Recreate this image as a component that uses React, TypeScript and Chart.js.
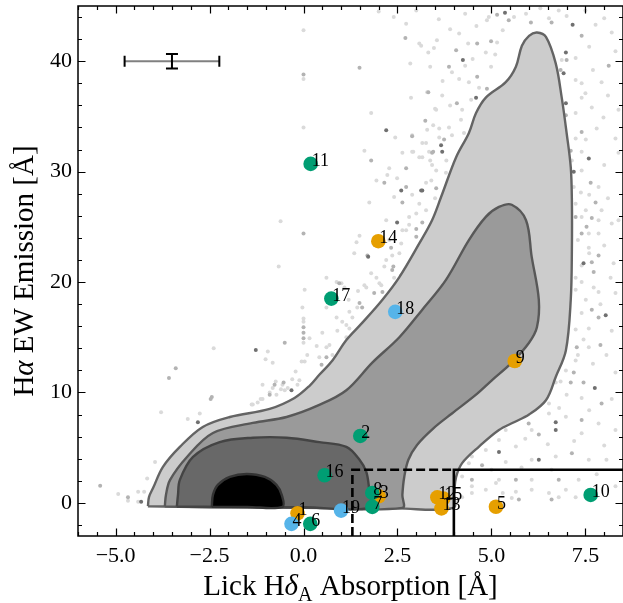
import React, { useEffect, useRef } from "react";
import { Chart, registerables } from "chart.js";

Chart.register(...registerables);

// ---------------- data ----------------
const xRange = [-6, 8.5];
const yRange = [-3, 45];
const xTicks = [-5, -2.5, 0, 2.5, 5, 7.5];
const yTicks = [0, 10, 20, 30, 40];

// labelled galaxies
const galaxyIds = [1, 2, 3, 4, 5, 6, 7, 8, 9, 10, 11, 12, 13, 14, 15, 16, 17, 18, 19];
const galaxyX = [-0.16, 1.51, 2.0, -0.32, 5.12, 0.18, 1.83, 1.83, 5.62, 7.64, 0.19, 3.56, 3.67, 1.99, 3.72, 0.56, 0.74, 2.44, 1.0];
const galaxyY = [-0.95, 6.06, 0.6, -1.9, -0.35, -1.9, -0.36, 0.9, 12.85, 0.72, 30.7, 0.5, -0.5, 23.7, 0.4, 2.5, 18.5, 17.3, -0.7];
const galaxyGroup = ["o", "g", "o", "b", "o", "g", "g", "g", "o", "g", "g", "o", "o", "o", "o", "g", "g", "b", "b"];

// density contours (outer to inner)
const contourOuter = [
  [-4.14, -0.3], [-4.11, 0.54], [-4.0, 1.36], [-3.74, 3.26], [-3.29, 5.07], [-2.68, 6.88], [-1.96, 7.78],
  [-0.9, 8.51], [-0.24, 9.5], [0.16, 10.6], [0.42, 11.6], [0.77, 12.9], [1.14, 14.75], [1.56, 16.3],
  [2.1, 18.4], [2.55, 20.45], [3.08, 23.5], [3.42, 25.6], [3.66, 27.7], [4.06, 31.3], [4.4, 33.5],
  [4.59, 35.3], [4.85, 36.7], [5.38, 38.1], [5.65, 39.5], [5.81, 41.4], [6.0, 42.3], [6.21, 42.6],
  [6.45, 42.2], [6.71, 39.8], [6.87, 36.7], [7.0, 33.5], [7.11, 30.4], [7.14, 27.4], [7.14, 22.9],
  [7.11, 18.4], [6.98, 13.8], [6.71, 11.4], [6.45, 9.3], [6.0, 8.0], [5.6, 7.3], [5.2, 6.6], [4.67, 5.1],
  [4.22, 3.6], [4.06, 2.35], [4.01, 1.0], [3.98, -0.45], [2.5, -0.5], [0.0, -0.45], [-2.5, -0.4],
  [-4.14, -0.3],
];
const contourMid = [
  [-3.69, -0.32], [-3.66, 0.72], [-3.55, 2.08], [-3.1, 4.16], [-2.41, 6.33], [-1.35, 7.24], [-0.45, 7.78],
  [0.42, 8.87], [1.14, 10.2], [1.83, 12.7], [2.55, 15.0], [3.16, 17.5], [3.79, 20.2], [4.4, 23.8],
  [4.85, 25.9], [5.2, 26.8], [5.54, 27.0], [5.92, 25.6], [6.07, 22.3], [6.26, 18.4], [6.21, 15.9],
  [6.0, 14.5], [5.54, 12.7], [5.01, 11.1], [4.59, 9.8], [3.95, 8.1], [3.47, 6.8], [3.02, 5.25],
  [2.79, 3.9], [2.68, 2.35], [2.63, 0.72], [2.63, -0.45], [0.0, -0.42], [-2.5, -0.38], [-3.69, -0.32],
];
const contourInner = [
  [-3.37, -0.33], [-3.34, 0.72], [-3.29, 2.08], [-2.94, 4.16], [-2.23, 5.5], [-1.35, 5.9], [-0.45, 5.9],
  [0.42, 5.5], [1.14, 5.07], [1.49, 3.9], [1.67, 2.8], [1.75, 1.18], [1.8, -0.4], [0.0, -0.4],
  [-2.0, -0.36], [-3.37, -0.33],
];
const contourCore = [
  [-2.44, -0.36], [-2.41, 0.72], [-2.28, 1.63], [-1.96, 2.35], [-1.51, 2.62], [-1.03, 2.35],
  [-0.72, 1.63], [-0.58, 0.72], [-0.56, -0.36], [-1.5, -0.36], [-2.44, -0.36],
];

// background galaxy sample (three shades)
const grayDark = [
  [2.2, 33.75], [5.36, 44.4], [7.16, 43.3], [4.24, 40.1], [4.59, 36.7], [3.69, 31.8], [3.16, 28.3],
  [6.98, 40.8], [6.92, 38.9], [6.98, 36.2], [7.59, 31.2], [7.19, 30.0], [7.45, 21.7], [8.04, 17.0],
  [7.75, 10.4], [6.71, 7.3], [6.71, 6.6], [5.2, 4.6], [6.26, 3.9], [-4.32, 0.1], [-2.81, 7.3],
  [-1.27, 13.85], [-0.32, 10.2], [2.6, 28.3], [3.13, 28.3], [3.66, 32.4], [2.49, 25.4], [1.72, 22.3],
];
const grayMid = [
  [0.0, 38.8], [1.49, 39.4], [2.71, 42.1], [2.89, 33.2], [3.32, 37.2], [3.24, 34.6], [3.45, 31.8],
  [5.15, 44.2], [5.46, 43.7], [6.05, 43.5], [6.6, 43.5], [7.4, 42.3], [4.62, 41.6], [4.99, 41.8],
  [4.06, 41.0], [3.87, 39.5], [4.62, 38.6], [4.88, 37.5], [4.08, 36.2], [3.74, 32.9], [7.0, 40.1],
  [6.84, 39.2], [8.12, 39.6], [6.98, 35.1], [7.4, 33.6], [7.11, 31.9], [7.64, 29.0], [7.77, 27.2],
  [7.24, 25.9], [7.67, 25.8], [7.53, 25.0], [7.4, 24.4], [7.85, 22.4], [7.67, 21.8], [7.72, 20.9],
  [7.67, 17.5], [7.85, 16.8], [7.27, 14.1], [7.9, 14.3], [7.19, 11.8], [7.11, 10.9], [7.45, 10.9],
  [7.93, 9.0], [5.99, 7.2], [6.26, 6.2], [7.4, 7.5], [7.14, 4.5], [4.75, 3.4], [4.48, 2.1], [5.65, 2.1],
  [6.79, 2.1], [5.73, 0.3], [6.6, 0.3], [-5.41, 1.54], [-4.67, 0.5], [-3.58, 11.3], [-3.4, 12.2],
  [-2.47, 9.4], [-0.77, 10.7], [-0.53, 10.9], [-0.5, 14.5], [0.0, 15.9], [0.0, 15.4], [0.0, 14.9],
  [-2.44, 9.6], [-0.9, 9.8], [1.8, 31.0], [3.42, 31.7], [2.73, 30.3], [2.15, 29.0], [2.73, 28.6],
  [3.53, 28.5], [2.63, 27.2], [3.0, 24.8], [3.16, 25.4], [2.33, 23.1], [2.39, 21.4], [1.88, 19.0],
  [1.49, 18.1], [1.7, 22.4], [3.0, 24.1], [2.36, 21.1], [2.6, 20.6], [2.1, 19.1], [1.56, 17.7],
  [0.95, 19.9], [0.61, 13.2], [0.48, 12.5], [0.0, 24.4],
];
const grayLight = [
  [0.0, 42.8], [0.0, 38.4], [0.0, 34.0], [1.8, 35.3], [2.44, 33.1], [2.73, 43.4], [2.84, 39.8],
  [2.86, 36.7], [3.13, 41.4], [3.32, 40.8], [3.47, 41.2], [3.37, 39.5], [3.5, 35.7], [3.29, 33.8],
  [3.26, 32.6], [3.16, 31.3], [2.92, 31.8], [2.63, 31.7], [1.62, 31.9], [3.55, 41.9], [4.93, 44.0],
  [4.88, 43.7], [5.92, 44.3], [6.53, 43.9], [6.79, 44.6], [7.77, 43.3], [8.2, 42.6], [4.14, 42.5],
  [5.15, 41.7], [4.38, 41.6], [3.08, 41.6], [4.85, 40.8], [3.95, 39.0], [4.99, 39.5], [4.67, 37.6],
  [4.4, 38.1], [4.14, 38.4], [3.69, 36.9], [3.29, 37.2], [4.46, 36.5], [3.53, 35.6], [4.22, 35.6],
  [4.19, 34.7], [3.61, 33.9], [3.87, 34.0], [3.95, 33.3], [4.27, 33.5], [3.08, 31.3], [3.34, 31.8],
  [3.42, 30.6], [3.79, 29.9], [3.26, 29.0], [6.87, 40.1], [7.24, 40.3], [7.4, 38.0], [7.24, 38.3],
  [7.93, 38.1], [8.38, 35.6], [7.24, 35.3], [7.4, 36.7], [7.67, 35.8], [7.98, 34.9], [7.51, 32.9],
  [7.24, 33.0], [7.14, 31.0], [7.4, 30.1], [7.85, 28.6], [7.19, 28.6], [7.38, 28.1], [8.38, 31.7],
  [7.24, 27.1], [7.51, 26.5], [7.4, 25.9], [7.93, 26.5], [7.85, 25.6], [8.2, 25.3], [8.38, 25.6],
  [7.59, 24.4], [7.85, 24.4], [7.59, 23.1], [7.4, 21.5], [8.25, 21.7], [8.17, 20.4], [7.24, 20.4],
  [7.4, 20.0], [7.72, 19.5], [7.85, 19.1], [7.24, 19.3], [7.51, 18.4], [7.24, 15.7], [7.59, 15.8],
  [7.45, 14.8], [7.59, 14.1], [8.06, 13.4], [7.24, 12.9], [6.98, 12.0], [6.84, 11.0], [7.4, 9.5],
  [6.71, 10.9], [6.53, 9.0], [6.26, 8.9], [6.53, 8.1], [6.98, 7.8], [5.65, 7.5], [5.38, 6.6],
  [6.07, 6.6], [7.85, 7.2], [7.4, 6.3], [5.2, 5.7], [5.65, 5.1], [4.85, 4.8], [6.07, 3.9], [6.71, 4.2],
  [7.59, 3.9], [8.06, 3.9], [4.48, 4.2], [4.4, 3.6], [5.38, 3.7], [4.22, 2.4], [5.2, 2.1], [6.07, 2.1],
  [7.32, 2.1], [4.48, 1.5], [4.85, 1.2], [5.65, 1.0], [6.07, 1.2], [6.53, 0.9], [6.98, 1.2], [6.79, 0.5],
  [4.22, 0.5], [7.24, 0.5], [5.12, 1.8], [5.54, 0.45], [4.48, 0.9], [-4.93, 0.8], [-4.67, 0.2],
  [-4.4, 1.0], [-4.24, 1.0], [-4.4, 0.1], [-4.16, 2.2], [-3.95, 3.7], [-3.79, 8.2], [-3.08, 7.6],
  [-2.76, 8.1], [-2.39, 14.0], [-1.35, 8.9], [-1.14, 9.4], [-1.01, 13.0], [-0.95, 13.7], [-0.82, 12.7],
  [-0.9, 10.0], [-0.74, 11.0], [-0.42, 10.4], [-0.16, 10.7], [-0.03, 17.7], [0.0, 16.7], [0.0, 16.4],
  [0.0, 14.5], [0.03, 12.8], [-0.05, 12.8], [0.16, 14.9], [-0.21, 11.9], [-0.11, 11.1], [-1.38, 8.9],
  [-1.22, 9.1], [-1.09, 9.4], [-0.72, 9.8], [-0.82, 10.4], [-0.56, 10.7], [-0.5, 10.2], [-1.09, 10.7],
  [2.89, 33.3], [3.16, 32.6], [3.61, 33.1], [2.89, 31.8], [3.37, 31.0], [2.28, 30.3], [2.23, 29.7],
  [2.49, 29.4], [3.53, 30.1], [3.4, 29.2], [1.94, 29.2], [2.41, 27.7], [2.89, 27.9], [3.08, 27.1],
  [3.26, 26.5], [1.75, 27.2], [2.2, 25.6], [2.81, 25.9], [2.73, 24.7], [-0.61, 25.5], [-0.66, 21.4],
  [1.49, 24.2], [1.41, 23.6], [2.36, 22.4], [1.94, 20.4], [2.15, 21.4], [2.41, 20.4], [2.07, 19.7],
  [1.67, 19.5], [1.09, 19.5], [1.01, 19.9], [1.22, 17.3], [0.03, 19.3], [1.03, 16.4], [1.35, 22.6],
  [2.55, 22.6], [2.28, 23.8], [2.63, 24.7], [3.08, 23.2], [2.81, 25.2], [2.02, 19.9], [1.62, 19.7],
  [1.43, 17.7], [1.3, 16.8], [0.61, 20.4], [0.88, 20.0], [0.61, 17.7], [0.88, 16.8], [1.14, 16.1],
  [1.22, 15.8], [0.5, 15.4], [1.14, 15.0], [0.69, 14.3], [0.61, 14.1], [0.42, 13.2], [0.77, 13.4],
  [2.0, 44.5], [2.4, 44.0], [3.0, 44.6], [3.6, 43.8], [4.3, 44.3], [4.6, 43.2], [5.6, 44.0], [6.3, 44.8],
  [7.0, 44.1], [7.5, 44.6], [8.0, 43.9], [3.9, 42.9], [4.5, 40.2], [5.1, 40.6], [4.3, 39.6], [3.7, 38.2],
  [5.3, 42.8], [7.6, 41.3], [8.3, 40.9], [7.7, 39.2], [7.5, 37.1], [8.1, 36.9], [7.8, 33.9], [8.3, 33.0],
  [7.4, 31.8], [8.0, 30.6], [7.6, 27.9], [8.1, 27.6], [7.3, 23.8], [8.0, 23.3], [7.6, 22.6], [8.3, 19.0],
  [7.9, 18.0], [7.4, 17.2], [8.2, 15.6], [7.3, 13.4], [7.7, 12.6], [8.3, 11.8], [7.0, 9.8], [8.2, 9.4],
  [6.8, 8.6], [7.6, 8.4], [8.3, 6.6], [5.9, 5.8], [6.5, 5.3], [7.2, 5.6], [8.0, 5.2], [5.0, 3.0],
  [5.8, 3.2], [6.6, 3.0], [7.8, 2.6], [8.3, 1.5], [5.3, 0.9], [7.6, 1.2], [3.9, 36.0], [3.45, 34.2],
  [3.8, 31.0], [3.5, 27.6], [3.0, 26.2], [2.6, 23.5], [2.2, 22.0], [1.8, 20.8], [1.45, 19.2], [1.2, 18.4],
  [0.9, 15.6], [0.35, 14.2], [0.1, 13.4], [-0.3, 11.2], [-0.6, 10.3],
];

// typical uncertainty marker
const errCenter = [-3.5, 40];
const errHalf = [1.26, 0.65];

// selection boxes
const dashedBoxX = [1.3, 1.3, 4.0];
const dashedBoxY = [-3, 3, 3];
const solidBoxX = [4.0, 4.0, 8.5];
const solidBoxY = [-3, 3, 3];

// ---------------- styling ----------------
const groupColor: Record<string, string> = { g: "#009E73", o: "#E69F00", b: "#56B4E9" };
const SERIF = '"Liberation Serif", "DejaVu Serif", serif';

const toPts = (arr: number[][]) => arr.map(([x, y]) => ({ x, y }));
const zipPts = (xs: number[], ys: number[]) => xs.map((x, i) => ({ x, y: ys[i] }));

const decorPlugin = {
  id: "decor",
  afterDatasetsDraw(chart: any) {
    const { ctx, scales } = chart;
    const xs = scales.x;
    const ys = scales.y;
    // error bar
    const cx = xs.getPixelForValue(errCenter[0]);
    const cy = ys.getPixelForValue(errCenter[1]);
    const xl = xs.getPixelForValue(errCenter[0] - errHalf[0]);
    const xr = xs.getPixelForValue(errCenter[0] + errHalf[0]);
    const yt = ys.getPixelForValue(errCenter[1] + errHalf[1]);
    const yb = ys.getPixelForValue(errCenter[1] - errHalf[1]);
    ctx.save();
    ctx.lineWidth = 2;
    ctx.strokeStyle = "#808080";
    ctx.beginPath();
    ctx.moveTo(xl, cy);
    ctx.lineTo(xr, cy);
    ctx.stroke();
    ctx.strokeStyle = "#000";
    ctx.beginPath();
    ctx.moveTo(xl, cy - 5.5);
    ctx.lineTo(xl, cy + 5.5);
    ctx.moveTo(xr, cy - 5.5);
    ctx.lineTo(xr, cy + 5.5);
    ctx.moveTo(cx, yt);
    ctx.lineTo(cx, yb);
    ctx.moveTo(cx - 6, yt);
    ctx.lineTo(cx + 6, yt);
    ctx.moveTo(cx - 6, yb);
    ctx.lineTo(cx + 6, yb);
    ctx.stroke();
    // galaxy labels
    ctx.fillStyle = "#000";
    ctx.font = `18px ${SERIF}`;
    ctx.textAlign = "left";
    ctx.textBaseline = "alphabetic";
    galaxyIds.forEach((id, i) => {
      ctx.fillText(String(id), xs.getPixelForValue(galaxyX[i]) + 1, ys.getPixelForValue(galaxyY[i]) + 2);
    });
    ctx.restore();
  },
  afterDraw(chart: any) {
    const { ctx, chartArea: a, scales } = chart;
    const xs = scales.x;
    const ys = scales.y;
    ctx.save();
    // spines
    ctx.strokeStyle = "#000";
    ctx.lineWidth = 1.5;
    ctx.strokeRect(a.left, a.top, a.right - a.left, a.bottom - a.top);
    // inward ticks on all sides
    ctx.lineWidth = 1.2;
    const minorX: number[] = [];
    for (let v = xRange[0]; v <= xRange[1] + 1e-9; v += 0.5) {
      if (!xTicks.some((t) => Math.abs(t - v) < 1e-9)) minorX.push(v);
    }
    const minorY: number[] = [];
    for (let v = -2; v <= yRange[1] + 1e-9; v += 2) {
      if (!yTicks.some((t) => Math.abs(t - v) < 1e-9)) minorY.push(v);
    }
    ctx.beginPath();
    const xt = (vals: number[], len: number) =>
      vals.forEach((v) => {
        const p = Math.round(xs.getPixelForValue(v)) + 0.5;
        ctx.moveTo(p, a.bottom);
        ctx.lineTo(p, a.bottom - len);
        ctx.moveTo(p, a.top);
        ctx.lineTo(p, a.top + len);
      });
    const yt2 = (vals: number[], len: number) =>
      vals.forEach((v) => {
        const p = Math.round(ys.getPixelForValue(v)) + 0.5;
        ctx.moveTo(a.left, p);
        ctx.lineTo(a.left + len, p);
        ctx.moveTo(a.right, p);
        ctx.lineTo(a.right - len, p);
      });
    xt(xTicks, 7.5);
    xt(minorX, 4);
    yt2(yTicks, 7.5);
    yt2(minorY, 4);
    ctx.stroke();

    // axis titles
    const big = 29;
    const drawRich = (parts: { t: string; f: string; dy?: number }[], x: number, y: number) => {
      let w = 0;
      parts.forEach((p) => {
        ctx.font = p.f;
        w += ctx.measureText(p.t).width;
      });
      let cur = x - w / 2;
      ctx.textAlign = "left";
      ctx.textBaseline = "alphabetic";
      parts.forEach((p) => {
        ctx.font = p.f;
        ctx.fillText(p.t, cur, y + (p.dy || 0));
        cur += ctx.measureText(p.t).width;
      });
    };
    ctx.fillStyle = "#000";
    const norm = `${big}px ${SERIF}`;
    const ital = `italic ${big}px ${SERIF}`;
    const sub = `20px ${SERIF}`;
    drawRich(
      [
        { t: "Lick H", f: norm },
        { t: "δ", f: ital },
        { t: "A", f: sub, dy: 6 },
        { t: " Absorption [Å]", f: norm },
      ],
      (a.left + a.right) / 2,
      595
    );
    ctx.save();
    ctx.translate(33, (a.top + a.bottom) / 2);
    ctx.rotate(-Math.PI / 2);
    drawRich(
      [
        { t: "H", f: norm },
        { t: "α", f: ital },
        { t: " EW Emission [Å]", f: norm },
      ],
      0,
      0
    );
    ctx.restore();
    ctx.restore();
  },
};

const fmtX = (v: number) => (v < 0 ? "\u2212" + Math.abs(v).toFixed(1) : v.toFixed(1));

const noPad = (s: any) => {
  s.paddingTop = 0;
  s.paddingBottom = 0;
  s.paddingLeft = 0;
  s.paddingRight = 0;
};

export default function App() {
  const ref = useRef<HTMLCanvasElement | null>(null);
  useEffect(() => {
    if (!ref.current) return;
    const contourStyle = (data: number[][], fillC: string, edge: string, order: number) => ({
      type: "scatter" as const,
      data: toPts(data),
      showLine: true,
      fill: "shape",
      backgroundColor: fillC,
      borderColor: edge,
      borderWidth: 2.4,
      tension: 0.35,
      pointRadius: 0,
      order,
    });
    const grayStyle = (data: number[][], c: string, order: number) => ({
      type: "scatter" as const,
      data: toPts(data),
      backgroundColor: c,
      borderWidth: 0,
      pointRadius: 2,
      order,
    });
    const chart = new Chart(ref.current, {
      type: "scatter",
      data: {
        datasets: [
          grayStyle(grayLight, "#dadada", 100),
          grayStyle(grayMid, "#b3b3b3", 99),
          grayStyle(grayDark, "#707070", 98),
          contourStyle(contourOuter, "#cccccc", "#646464", 90),
          contourStyle(contourMid, "#9a9a9a", "#585858", 89),
          contourStyle(contourInner, "#686868", "#444444", 88),
          contourStyle(contourCore, "#000000", "#333333", 87),
          {
            type: "scatter",
            data: zipPts(dashedBoxX, dashedBoxY),
            showLine: true,
            borderColor: "#000",
            borderWidth: 2.6,
            borderDash: [9, 4],
            pointRadius: 0,
            tension: 0,
            fill: false,
            order: 50,
          } as any,
          {
            type: "scatter",
            data: zipPts(solidBoxX, solidBoxY),
            showLine: true,
            borderColor: "#000",
            borderWidth: 2.6,
            pointRadius: 0,
            tension: 0,
            fill: false,
            order: 49,
          } as any,
          {
            type: "scatter",
            data: zipPts(galaxyX, galaxyY),
            backgroundColor: galaxyGroup.map((g) => groupColor[g]),
            borderWidth: 0,
            pointRadius: 7.3,
            order: 10,
          } as any,
        ] as any,
      },
      options: {
        animation: false,
        responsive: false,
        events: [],
        layout: { autoPadding: false, padding: { top: 6, right: 0, left: 0, bottom: 0 } },
        plugins: { legend: { display: false }, tooltip: { enabled: false } },
        scales: {
          x: {
            type: "linear",
            min: xRange[0],
            max: xRange[1],
            afterBuildTicks: (s: any) => {
              s.ticks = xTicks.map((v) => ({ value: v }));
            },
            afterFit: (s: any) => {
              s.height = 67;
              noPad(s);
            },
            grid: { display: false, drawTicks: false },
            border: { display: false },
            ticks: {
              padding: 7,
              color: "#000",
              autoSkip: false,
              maxRotation: 0,
              font: { family: SERIF, size: 22 },
              callback: (v: any) => fmtX(Number(v)),
            },
          },
          y: {
            type: "linear",
            min: yRange[0],
            max: yRange[1],
            afterBuildTicks: (s: any) => {
              s.ticks = yTicks.map((v) => ({ value: v }));
            },
            afterFit: (s: any) => {
              s.width = 78;
              noPad(s);
            },
            grid: { display: false, drawTicks: false },
            border: { display: false },
            ticks: {
              padding: 6,
              color: "#000",
              autoSkip: false,
              font: { family: SERIF, size: 22 },
              callback: (v: any) => String(v),
            },
          },
        },
      } as any,
      plugins: [decorPlugin as any],
    });
    return () => chart.destroy();
  }, []);
  return (
    <div style={{ position: "fixed", left: 0, top: 0, width: 623, height: 603, background: "#fff" }}>
      <canvas ref={ref} width={623} height={603} style={{ display: "block" }} />
    </div>
  );
}
